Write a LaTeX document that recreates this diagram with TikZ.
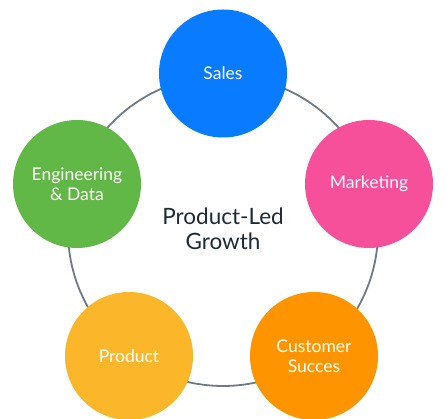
\documentclass[tikz,border=0pt]{standalone}
\usepackage{fontspec}
\setmainfont{Lato}
\definecolor{csales}{HTML}{087BFE}
\definecolor{cmark}{HTML}{F6509B}
\definecolor{ceng}{HTML}{62B847}
\definecolor{cprod}{HTML}{FBB62A}
\definecolor{ccust}{HTML}{FE9500}
\definecolor{cring}{HTML}{6F7A88}
\definecolor{ctext}{HTML}{1E2A36}
\tikzset{
  dept/.style={circle, minimum size=128pt, inner sep=0pt, text=white, align=center,
    font=\fontsize{17.5}{20}\selectfont},
}
\begin{document}
\begin{tikzpicture}[x=1pt,y=1pt]
\useasboundingbox (0,0) rectangle (447,419);
\coordinate (c) at (223,188);
\draw[cring, line width=1.8pt] (c) circle[radius=155];
\node[dept, fill=csales] (sales) at (223,345.5) {Sales};
\node[dept, fill=cmark] (mark) at (369,235) {Marketing};
\node[dept, fill=ceng] (eng) at (77,235) {Engineering\\\& Data};
\node[dept, fill=cprod] (prod) at (129,63) {Product};
\node[dept, fill=ccust] (cust) at (314,63) {Customer\\Succes};
\node[text=ctext, align=center, font=\fontsize{22.5}{25}\selectfont] (title) at (223,190) {Product-Led\\Growth};
\end{tikzpicture}
\end{document}
